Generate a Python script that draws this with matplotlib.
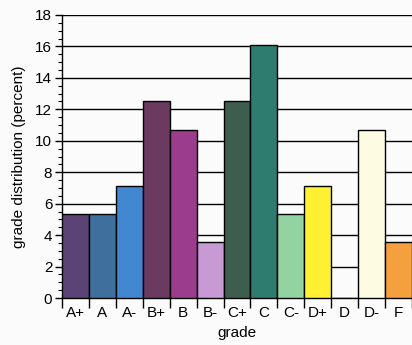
import matplotlib.pyplot as plt
import numpy as np

plt.rcParams['font.family'] = ['Liberation Sans', 'DejaVu Sans']

grades = ['A+', 'A', 'A-', 'B+', 'B', 'B-', 'C+', 'C', 'C-', 'D+', 'D', 'D-', 'F']
percent = [5.36, 5.36, 7.14, 12.5, 10.71, 3.57, 12.5, 16.07, 5.36, 7.14, 0.0, 10.71, 3.57]
colors = ['#5b4475', '#3f6f9c', '#4288d0', '#6c3a60', '#9b3c8c', '#c89ad4',
          '#3d5e4e', '#2e7b6f', '#93d3a2', '#fff032', '#ffffff', '#fdfbe2', '#f4a03e']

fig = plt.figure(figsize=(4.12, 3.45), dpi=100)
fig.patch.set_facecolor('#fbfbfc')
ax = fig.add_axes([62 / 412, 47 / 345, 350 / 412, 283 / 345])
ax.set_facecolor('#fbfbfc')

x = np.arange(len(grades))
ax.bar(x, percent, width=1.0, color=colors, edgecolor='black', linewidth=1.0, zorder=3)

ax.set_ylim(0, 18)
ax.set_xlim(-0.5, 12.32)
ax.set_yticks(np.arange(0, 19, 2))
ax.set_yticks(np.arange(0, 18.1, 0.5), minor=True)
for yv in np.arange(2, 19, 2):
    ax.axhline(yv, color='black', linewidth=1.0, zorder=1)

ax.set_xticks(np.arange(-0.5, 12.6, 1.0))
ax.set_xticklabels([])
ax.set_xticks(x, minor=True)
ax.set_xticklabels(grades, minor=True)
ax.tick_params(axis='x', which='minor', length=0, labelsize=11, pad=6)
ax.tick_params(axis='x', which='major', length=7, width=1.0, direction='out')
ax.tick_params(axis='y', which='major', length=5, width=1.0, labelsize=11, pad=2)
ax.tick_params(axis='y', which='minor', length=3, width=0.8)

for s in ['top', 'right']:
    ax.spines[s].set_visible(False)
ax.spines['left'].set_linewidth(1.0)
ax.spines['bottom'].set_linewidth(1.0)

ax.set_xlabel('grade', fontsize=11, labelpad=4)
ax.set_ylabel('grade distribution (percent)', fontsize=11, labelpad=7)

fig.savefig('out.png', dpi=100)
